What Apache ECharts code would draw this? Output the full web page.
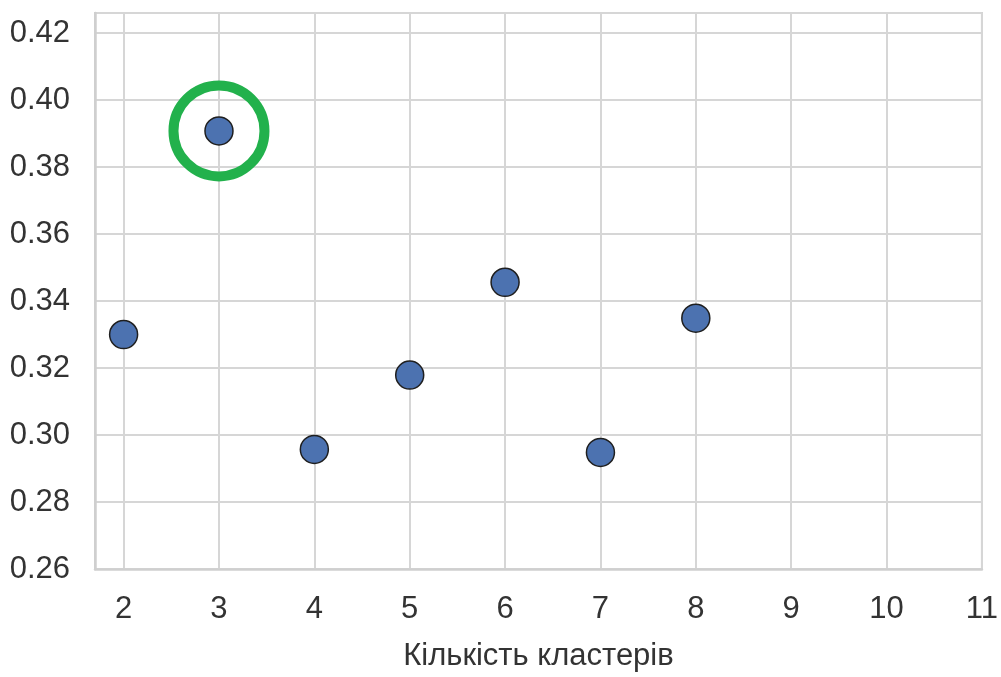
<!DOCTYPE html>
<html>
<head>
<meta charset="utf-8">
<script src="https://cdn.jsdelivr.net/npm/echarts@6/dist/echarts.min.js"></script>
<style>
  html, body { margin: 0; padding: 0; background: #fff; }
  #chart { width: 1001px; height: 677px; }
</style>
</head>
<body>
<div id="chart"></div>
<script>
// кількість кластерів і значення метрики
const clusters = [2, 3, 4, 5, 6, 7, 8]
const scores = [0.330, 0.3908, 0.2957, 0.3179, 0.3456, 0.2948, 0.3349]
// найкраща точка (обведена)
const best = [[3, 0.3908]]
const xTicks = [2, 3, 4, 5, 6, 7, 8, 9, 10, 11]
const xTitle = 'Кількість кластерів'

const chart = echarts.init(document.getElementById('chart'))

const font = 'Liberation Sans'

const option = {
  animation: false,
  grid: {
    left: 95,
    right: 14,
    top: 13,
    bottom: 105,
    show: true,
    borderColor: '#cfcfcf',
    borderWidth: 2
  },
  xAxis: {
    type: 'value',
    min: 1.7,
    max: 11,
    name: xTitle,
    nameLocation: 'middle',
    nameGap: 72,
    nameTextStyle: { fontFamily: font, fontSize: 31, color: '#333' },
    axisLine: { show: true, lineStyle: { color: '#cfcfcf', width: 2.5 } },
    axisTick: { show: false, customValues: xTicks },
    axisLabel: {
      fontFamily: font, fontSize: 31, color: '#333', margin: 25,
      customValues: xTicks
    },
    splitLine: { show: true, lineStyle: { color: '#d6d6d6', width: 2 } }
  },
  yAxis: {
    type: 'value',
    min: 0.26,
    max: 0.426,
    interval: 0.02,
    axisLine: { show: true, lineStyle: { color: '#cfcfcf', width: 2.5 } },
    axisTick: { show: false },
    axisLabel: {
      fontFamily: font, fontSize: 31, color: '#333', margin: 25,
      showMaxLabel: false,
      formatter: v => v.toFixed(2)
    },
    splitLine: { show: true, lineStyle: { color: '#d6d6d6', width: 2 } }
  },
  series: [
    {
      type: 'scatter',
      data: clusters.map((c, i) => [c, scores[i]]),
      symbolSize: 28,
      itemStyle: { color: '#4c72b0', borderColor: '#1f1f1f', borderWidth: 1.5, opacity: 1 },
      z: 3
    },
    {
      type: 'scatter',
      data: best,
      symbolSize: 91,
      itemStyle: { color: 'transparent', borderColor: '#22b14c', borderWidth: 10, opacity: 1 },
      z: 4
    }
  ]
}

chart.setOption(option)
</script>
</body>
</html>
